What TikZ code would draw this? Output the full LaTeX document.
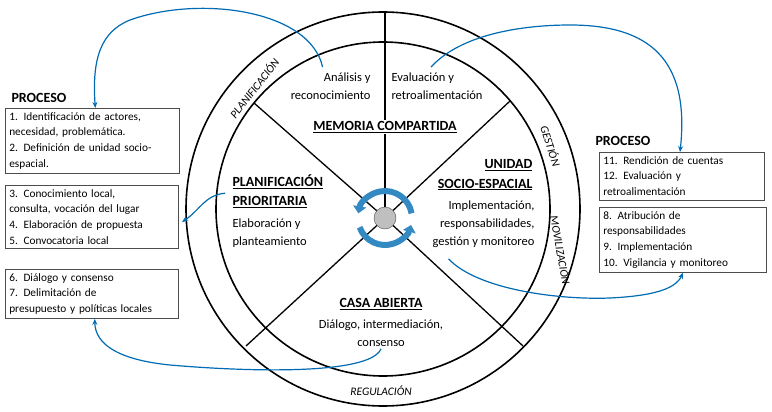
\documentclass[tikz,border=0pt]{standalone}
\usepackage{fontspec}
\setmainfont{Carlito}
\usetikzlibrary{arrows.meta, positioning, calc}

\tikzset{
	ring/.style={draw=black, line width=1.6pt},
	spoke/.style={draw=black, line width=1.3pt},
	flow/.style={draw=blue!40!cyan!70!black, line width=1.2pt, -{Stealth[length=6pt,width=5pt]}},
	box/.style={draw=black!70, line width=0.6pt, align=left, inner sep=4pt, font=\fontsize{11.3}{15.8}\selectfont},
	head/.style={font=\fontsize{14}{16}\selectfont\bfseries},
	stage/.style={font=\fontsize{14}{19.5}\selectfont\bfseries},
	txt/.style={font=\fontsize{12.5}{18}\selectfont},
	band/.style={font=\fontsize{11.5}{13}\selectfont\itshape}
}
\colorlet{flowblue}{blue!40!cyan!70!black}

\begin{document}
\begin{tikzpicture}[x=1pt, y=-1pt]
					\useasboundingbox (0,0) rectangle (772,412);

					\coordinate (c) at (383,209);
					\coordinate (hub) at (385,218);

					\draw[ring] (c) circle (197);
					\draw[ring] (c) circle (167);

					%% spokes
					\coordinate (top) at (385,12);
					\coordinate (ul) at ($(c)+(-129,-106)$);
					\coordinate (ur) at ($(c)+(127,-108)$);
					\coordinate (ll) at ($(c)+(-137,137)$);
					\coordinate (lr) at ($(c)+(140,137)$);
					\draw[spoke] (top) -- (hub);
					\draw[spoke] (ul) -- (hub);
					\draw[spoke] (ur) -- (hub);
					\draw[spoke] (ll) -- (hub);
					\draw[spoke] (lr) -- (hub);

					%% hub
					\draw[line width=6pt, draw=flowblue!80, -{Triangle[length=7pt,width=13pt]}] (hub) ++(-10:27) arc (-10:-170:27);
					\draw[line width=6pt, draw=flowblue!80, -{Triangle[length=7pt,width=13pt]}] (hub) ++(160:27) arc (160:15:27);
					\node[circle, fill=black!25, draw=black!70, minimum size=22pt, inner sep=0pt] (core) at (hub) {};

					%% stages
					\node[stage, fill=white, inner sep=1pt] (memoria) at (385,127) {\underline{MEMORIA COMPARTIDA}};
					\node[txt, align=right, anchor=east] (analisis) at (374,86) {Análisis y\\reconocimiento};
					\node[txt, align=left, anchor=west] (evalua) at (388,86) {Evaluación y\\retroalimentación};

					\node[stage, align=left, anchor=north west] (plan) at (229,171) {\underline{PLANIFICACIÓN}\\\underline{PRIORITARIA}};
					\node[txt, align=left, anchor=north west] (elab) at (229,215) {Elaboración y\\planteamiento};

					\node[stage, align=right, anchor=north east] (unidad) at (536,156) {\underline{UNIDAD}\\\underline{SOCIO-ESPACIAL}};
					\node[txt, align=right, anchor=north east] (impl) at (538,197) {Implementación,\\responsabilidades,\\gestión y monitoreo};

					\node[stage] (casa) at (381,304) {\underline{CASA ABIERTA}};
					\node[txt, align=center, anchor=north] (dialogo) at (381,316) {Diálogo, intermediación,\\consenso};

					%% bands
					\node[band, rotate=52] (bplan) at (254,88) {PLANIFICACIÓN};
					\node[band, rotate=-72] (bgest) at (551,146) {GESTIÓN};
					\node[band, rotate=-80] (bmov) at (561,250) {MOVILIZACIÓN};
					\node[band] (breg) at (381,391) {REGULACIÓN};

					%% process boxes
					\node[head, anchor=south west] (procL) at (8,106) {PROCESO};
					\node[box, text width=166pt, anchor=north west] (p1) at (5,108) {1. Identificación de actores,\\necesidad, problemática.\\2. Definición de unidad socio-\\espacial.};
					\node[box, text width=165pt, anchor=north west] (p2) at (5,185) {3. Conocimiento local,\\consulta, vocación del lugar\\4. Elaboración de propuesta\\5. Convocatoria local};
					\node[box, text width=165pt, anchor=north west] (p3) at (5,269) {6. Diálogo y consenso\\7. Delimitación de\\presupuesto y políticas locales};

					\node[head, anchor=south west] (procR) at (592,149) {PROCESO};
					\node[box, text width=157pt, anchor=north west] (p4) at (599,152) {11. Rendición de cuentas\\12. Evaluación y\\retroalimentación};
					\node[box, text width=159pt, anchor=north west] (p5) at (599,207) {8. Atribución de\\responsabilidades\\9. Implementación\\10. Vigilancia y monitoreo};

					%% flows
					\draw[flow] (analisis.north) ++(-8,-2) .. controls (310,10) and (200,-5) .. (130,20) .. controls (100,32) and (92,60) .. ([xshift=3pt]p1.north);
					\draw[flow] (evalua.north) ++(-6,-2) .. controls (460,35) and (520,25) .. (570,25) .. controls (650,25) and (690,60) .. (p4.north -| 680,0);
					\draw[flow] (plan.west) ++(-4,2) .. controls (205,195) and (200,210) .. (182,222);
					\draw[flow] (impl.south) ++(-35,8) .. controls (478,290) and (560,300) .. (610,298) .. controls (650,296) and (675,290) .. (p5.south -| 683,0);
					\draw[flow] (dialogo.south) ++(0,-1) .. controls (370,375) and (250,372) .. (170,365) .. controls (120,360) and (95,345) .. ([xshift=3pt]p3.south);
				\end{tikzpicture}
\end{document}
